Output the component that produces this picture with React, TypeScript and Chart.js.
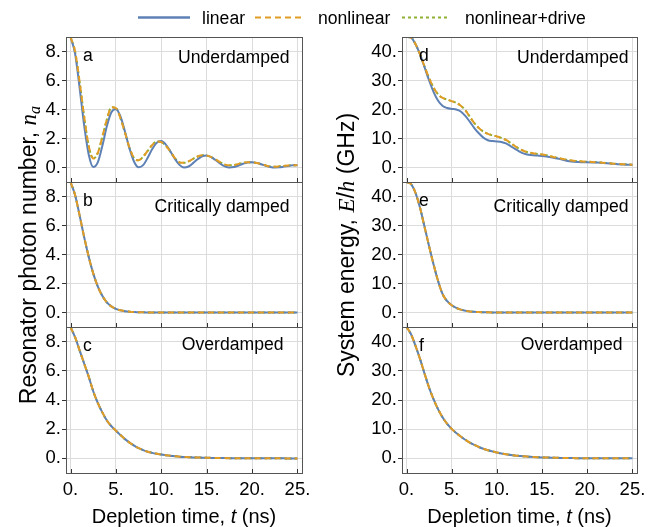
import React, { useEffect, useRef } from 'react';
import { Chart, registerables } from 'chart.js';

Chart.register(...registerables);

// ---------- data ----------
const timeNs = [0, 0.5, 1, 1.5, 2, 2.5, 3, 3.5, 4, 4.5, 5, 5.5, 6, 6.5, 7, 7.5, 8, 8.5, 9, 9.5, 10, 10.5, 11, 11.5, 12, 12.5, 13, 13.5, 14, 14.5, 15, 15.5, 16, 16.5, 17, 17.5, 18, 18.5, 19, 19.5, 20, 20.5, 21, 21.5, 22, 22.5, 23, 23.5, 24, 24.5, 25];
const timeTicks = [0, 5, 10, 15, 20, 25];
const photonTicks = [0, 2, 4, 6, 8];
const energyTicks = [0, 10, 20, 30, 40];
const seriesNames = ['linear', 'nonlinear', 'nonlinear+drive'];
const panelLetters = ['a', 'b', 'c', 'd', 'e', 'f'];
const regimeNames = ['Underdamped', 'Critically damped', 'Overdamped'];

// (a) photon number, underdamped
const linPhotonUnder = [9.0, 7.85, 5.5, 2.9, 0.9, 0.03, 0.35, 1.48, 2.84, 3.81, 4.04, 3.52, 2.47, 1.3, 0.4, 0.01, 0.16, 0.67, 1.27, 1.71, 1.82, 1.58, 1.11, 0.59, 0.18, 0.0, 0.07, 0.3, 0.57, 0.77, 0.82, 0.71, 0.5, 0.26, 0.08, 0.0, 0.03, 0.14, 0.26, 0.35, 0.37, 0.32, 0.22, 0.12, 0.04, 0.0, 0.01, 0.06, 0.11, 0.16, 0.16];
const nonPhotonUnder = [9.0, 8.0, 5.9, 3.5, 1.5, 0.62, 1.0, 2.1, 3.3, 4.15, 4.1, 3.4, 2.4, 1.35, 0.65, 0.5, 0.75, 1.15, 1.55, 1.8, 1.75, 1.5, 1.1, 0.65, 0.35, 0.32, 0.42, 0.6, 0.76, 0.84, 0.82, 0.72, 0.55, 0.36, 0.2, 0.15, 0.17, 0.25, 0.32, 0.37, 0.36, 0.31, 0.23, 0.14, 0.07, 0.06, 0.08, 0.11, 0.14, 0.16, 0.16];
const drivePhotonUnder = nonPhotonUnder;
// (b) photon number, critically damped (all three coincide)
const critPhoton = [9.0, 8.1, 6.7, 5.2, 3.85, 2.7, 1.8, 1.15, 0.7, 0.42, 0.25, 0.15, 0.09, 0.05, 0.03, 0.02, 0.01, 0.005, 0, 0, 0, 0, 0, 0, 0, 0, 0, 0, 0, 0, 0, 0, 0, 0, 0, 0, 0, 0, 0, 0, 0, 0, 0, 0, 0, 0, 0, 0, 0, 0, 0];
// (c) photon number, overdamped (all three coincide)
const overPhoton = [9.0, 8.3, 7.4, 6.5, 5.6, 4.6, 3.8, 3.15, 2.6, 2.2, 1.9, 1.6, 1.32, 1.08, 0.88, 0.7, 0.57, 0.46, 0.38, 0.32, 0.27, 0.22, 0.18, 0.15, 0.12, 0.1, 0.085, 0.07, 0.06, 0.05, 0.04, 0.035, 0.03, 0.025, 0.02, 0.017, 0.014, 0.012, 0.01, 0.008, 0.007, 0.006, 0.005, 0.004, 0.003, 0.003, 0.002, 0.002, 0.001, 0.001, 0.001];
// (d) system energy, underdamped
const linEnergyUnder = [45, 44.8, 42.5, 39, 34.5, 30, 26, 23, 21.2, 20.5, 20.2, 20.0, 19.3, 17.8, 15.8, 13.6, 11.8, 10.3, 9.4, 9.1, 9.0, 8.8, 8.3, 7.4, 6.4, 5.5, 4.8, 4.4, 4.2, 4.1, 4.0, 3.8, 3.5, 3.2, 2.9, 2.5, 2.15, 1.95, 1.87, 1.82, 1.78, 1.74, 1.7, 1.62, 1.5, 1.38, 1.25, 1.12, 1.02, 0.96, 0.92];
const nonEnergyUnder = [45, 44.8, 42.5, 39, 34.8, 30.8, 27.5, 25.2, 24.0, 23.4, 22.9, 22.3, 21.3, 19.8, 17.5, 15.3, 13.6, 12.4, 11.6, 11.1, 10.7, 10.2, 9.5, 8.5, 7.4, 6.4, 5.7, 5.2, 4.9, 4.7, 4.5, 4.2, 3.8, 3.45, 3.1, 2.8, 2.5, 2.3, 2.15, 2.05, 2.0, 1.92, 1.82, 1.7, 1.58, 1.45, 1.32, 1.2, 1.1, 1.02, 0.95];
const driveEnergyUnder = nonEnergyUnder;
// (e) system energy, critically damped
const critEnergy = [45, 44.3, 41.2, 36, 29.5, 22.8, 16.5, 10.8, 6.3, 3.9, 2.5, 1.6, 1.0, 0.62, 0.38, 0.23, 0.14, 0.09, 0.05, 0.03, 0.02, 0.01, 0.005, 0, 0, 0, 0, 0, 0, 0, 0, 0, 0, 0, 0, 0, 0, 0, 0, 0, 0, 0, 0, 0, 0, 0, 0, 0, 0, 0, 0];
// (f) system energy, overdamped
const overEnergy = [45, 42.5, 38.5, 34, 29, 24.2, 20.2, 16.8, 14.0, 11.8, 10.1, 8.7, 7.5, 6.4, 5.4, 4.6, 3.9, 3.3, 2.8, 2.4, 2.0, 1.7, 1.45, 1.2, 1.0, 0.85, 0.7, 0.6, 0.5, 0.42, 0.35, 0.3, 0.25, 0.21, 0.17, 0.14, 0.12, 0.1, 0.08, 0.07, 0.06, 0.05, 0.04, 0.035, 0.03, 0.025, 0.02, 0.017, 0.015, 0.012, 0.01];

// ---------- style ----------
const FONT = '"Liberation Sans", Arial, Helvetica, sans-serif';
const SERIF = '"Liberation Serif", "Times New Roman", serif';
const COLORS = ['#5E81B5', '#E19C24', '#8FB032'];
const GRID = '#dcdcdc';
const FRAME = '#555555';

const COL = [
  { left: 20, width: 290, yW: 46 },
  { left: 355, width: 290, yW: 47 },
];
const ROW = [
  { top: 27, height: 165, padTop: 10, padBottom: 10, xH: 0 },
  { top: 172, height: 165, padTop: 10, padBottom: 10, xH: 0 },
  { top: 317, height: 186, padTop: 10, padBottom: 0, xH: 30 },
];

const panels = [
  { col: 0, row: 0, series: [linPhotonUnder, nonPhotonUnder, drivePhotonUnder], yMin: -1, yMax: 9, yTicks: photonTicks, noteRight: 12.5, noteY: 25.5 },
  { col: 0, row: 1, series: [critPhoton, critPhoton, critPhoton], yMin: -1, yMax: 9, yTicks: photonTicks, noteRight: 12.5, noteY: 29.5 },
  { col: 0, row: 2, series: [overPhoton, overPhoton, overPhoton], yMin: -1, yMax: 9, yTicks: photonTicks, noteRight: 18.5, noteY: 22.5 },
  { col: 1, row: 0, series: [linEnergyUnder, nonEnergyUnder, driveEnergyUnder], yMin: -5, yMax: 45, yTicks: energyTicks, noteRight: 8.5, noteY: 26 },
  { col: 1, row: 1, series: [critEnergy, critEnergy, critEnergy], yMin: -5, yMax: 45, yTicks: energyTicks, noteRight: 8.5, noteY: 29.5 },
  { col: 1, row: 2, series: [overEnergy, overEnergy, overEnergy], yMin: -5, yMax: 45, yTicks: energyTicks, noteRight: 14.5, noteY: 22.5 },
];

const framePlugin = {
  id: 'frame',
  afterDatasetsDraw(chart: any, _args: any, opts: any) {
    const { ctx, chartArea: a, scales } = chart;
    ctx.save();
    ctx.strokeStyle = FRAME;
    ctx.lineWidth = 1;
    ctx.strokeRect(Math.round(a.left) + 0.5, Math.round(a.top) + 0.5, Math.round(a.right - a.left), Math.round(a.bottom - a.top));
    ctx.strokeStyle = '#333';
    ctx.beginPath();
    timeTicks.forEach((v) => {
      const x = Math.round(scales.x.getPixelForValue(v)) + 0.5;
      ctx.moveTo(x, a.bottom);
      ctx.lineTo(x, a.bottom - 4);
    });
    ctx.stroke();
    ctx.fillStyle = '#000';
    ctx.font = `17.6px ${FONT}`;
    ctx.textBaseline = 'alphabetic';
    ctx.textAlign = 'left';
    ctx.fillText(opts.letter, a.left + 17, a.top + 24);
    ctx.textAlign = 'right';
    ctx.fillText(opts.note, a.right - opts.noteRight, a.top + opts.noteY);
    ctx.restore();
  },
};

function Panel({ idx }: { idx: number }) {
  const ref = useRef<HTMLCanvasElement>(null);
  const p = panels[idx];
  const c = COL[p.col];
  const r = ROW[p.row];
  useEffect(() => {
    // linear in the middle, nonlinear dashed on top, drive dotted underneath
    const styles = [
      { borderDash: [] as number[], order: 2 },
      { borderDash: [6, 4], order: 1 },
      { borderDash: [2.5, 2.5], order: 3 },
    ];
    const chart = new Chart(ref.current as HTMLCanvasElement, {
      type: 'line',
      data: {
        datasets: p.series.map((vals, i) => ({
          label: seriesNames[i],
          data: timeNs.map((t, k) => ({ x: t, y: vals[k] })),
          borderColor: COLORS[i],
          borderWidth: 2,
          borderDash: styles[i].borderDash,
          order: styles[i].order,
          pointRadius: 0,
          fill: false,
          cubicInterpolationMode: 'monotone',
        })),
      },
      options: {
        responsive: false,
        animation: false,
        devicePixelRatio: 1,
        layout: { padding: { top: r.padTop, right: 8, bottom: r.padBottom, left: 0 } },
        plugins: {
          legend: { display: false },
          tooltip: { enabled: false },
          frame: { letter: panelLetters[idx], note: regimeNames[p.row], noteRight: p.noteRight, noteY: p.noteY },
        } as any,
        scales: {
          x: {
            type: 'linear',
            min: -0.5,
            max: 25.5,
            afterBuildTicks: (s: any) => { s.ticks = timeTicks.map((v) => ({ value: v })); },
            ticks: {
              display: r.xH > 0,
              color: '#000',
              font: { family: FONT, size: 18.5 },
              padding: 6,
              maxRotation: 0,
              autoSkip: false,
              callback: (v: any) => `${v}.`,
            },
            grid: { color: GRID, lineWidth: 1, drawTicks: false },
            border: { display: false },
            afterFit: (s: any) => { s.height = r.xH; s.paddingLeft = 0; s.paddingRight = 0; },
          },
          y: {
            type: 'linear',
            min: p.yMin,
            max: p.yMax,
            afterBuildTicks: (s: any) => { s.ticks = p.yTicks.map((v) => ({ value: v })); },
            ticks: {
              color: '#000',
              font: { family: FONT, size: 18.5 },
              padding: 1,
              callback: (v: any) => `${v}.`,
            },
            grid: { color: GRID, lineWidth: 1, drawTicks: true, tickLength: 4, tickColor: '#333' },
            border: { display: false },
            afterFit: (s: any) => { s.width = c.yW; s.paddingTop = 0; s.paddingBottom = 0; },
          },
        },
      } as any,
      plugins: [framePlugin],
    });
    return () => chart.destroy();
  }, []);
  return (
    <canvas
      ref={ref}
      width={c.width}
      height={r.height}
      style={{ position: 'absolute', left: c.left, top: r.top, width: c.width, height: r.height }}
    />
  );
}

export default function App() {
  return (
    <div style={{ position: 'absolute', left: 0, top: 0, width: 656, height: 527, background: '#fff', overflow: 'hidden' }}>
      {panels.map((_, i) => <Panel key={i} idx={i} />)}
      <svg width={656} height={527} style={{ position: 'absolute', left: 0, top: 0, pointerEvents: 'none' }} fontFamily={FONT}>
        <line x1={138} y1={17.5} x2={190} y2={17.5} stroke={COLORS[0]} strokeWidth={2.5} />
        <text x={202} y={24} fontSize={17.6} fill="#000">{seriesNames[0]}</text>
        <line x1={255} y1={17.5} x2={305} y2={17.5} stroke={COLORS[1]} strokeWidth={2} strokeDasharray="6 4" />
        <text x={318} y={24} fontSize={17.6} fill="#000">{seriesNames[1]}</text>
        <line x1={402} y1={17.5} x2={450} y2={17.5} stroke={COLORS[2]} strokeWidth={2} strokeDasharray="3 3" />
        <text x={465} y={24} fontSize={17.6} fill="#000">{seriesNames[2]}</text>

        <text x={184} y={523} fontSize={20} textAnchor="middle" fill="#000">
          Depletion time, <tspan fontStyle="italic">t</tspan> (ns)
        </text>
        <text x={519.5} y={523} fontSize={20} textAnchor="middle" fill="#000">
          Depletion time, <tspan fontStyle="italic">t</tspan> (ns)
        </text>
        <text transform="translate(36,255) rotate(-90)" fontSize={23} textAnchor="middle" fill="#000">
          Resonator photon number, <tspan fontFamily={SERIF} fontStyle="italic">n</tspan><tspan fontFamily={SERIF} fontStyle="italic" fontSize={16} dy={4}>a</tspan>
        </text>
        <text transform="translate(354,245) rotate(-90)" fontSize={23} textAnchor="middle" fill="#000">
          System energy, <tspan fontFamily={SERIF} fontStyle="italic">E</tspan>/<tspan fontFamily={SERIF} fontStyle="italic">h</tspan> (GHz)
        </text>
      </svg>
    </div>
  );
}
